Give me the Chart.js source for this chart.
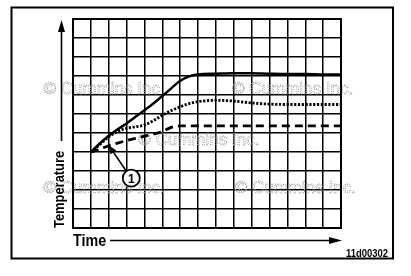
<!DOCTYPE html>
<html><head><meta charset="utf-8">
<script src="https://cdn.jsdelivr.net/npm/chart.js@4/dist/chart.umd.min.js"></script>
<style>html,body{margin:0;padding:0;background:#fff;overflow:hidden}</style>
</head><body>
<canvas id="c" width="411" height="276"></canvas>
<script>
// ---- data (grid units: x = time divisions, y = temperature divisions) ----
const timePoints = [1, 1.5, 2, 2.5, 3, 3.5, 4, 4.5, 5, 5.5, 6, 6.5, 7, 8, 9, 10, 11, 12, 13, 14, 15];
const tempSolid  = [4.0, 4.45, 4.85, 5.2, 5.5, 5.85, 6.2, 6.55, 6.95, 7.35, 7.75, 7.98, 8.08, 8.12, 8.15, 8.15, 8.12, 8.1, 8.1, 8.08, 8.08];
const tempDotted = [4.0, 4.4, 4.8, 5.08, 5.25, 5.33, 5.42, 5.65, 5.93, 6.18, 6.38, 6.55, 6.65, 6.72, 6.68, 6.58, 6.52, 6.5, 6.5, 6.5, 6.5];
const tempDashed = [4.0, 4.15, 4.33, 4.47, 4.6, 4.72, 4.83, 4.95, 5.07, 5.3, 5.37, 5.37, 5.37, 5.37, 5.37, 5.37, 5.37, 5.37, 5.37, 5.37, 5.37];
const xRange = [0, 15];
const yRange = [0, 11];
const xTitle = "Time";
const yTitle = "Temperature";
const figureId = "11d00302";
const calloutLabel = "1";
const calloutCenter = [3.26, 2.62];
const calloutTip = [1.98, 4.37];
const watermarkText = ["© Cummins Inc", "© Cummins Inc.", "© Cummins Inc.", "© Cummins Inc.", "© Cummins Inc."];
const watermarkPos = [[-1.65, 7.3], [8.9, 7.3], [3.65, 4.63], [-1.65, 2.1], [9.05, 2.1]];

function pts(ys){ return timePoints.map((t,i)=>({x:t, y:ys[i]})); }

const FONT = '"Liberation Sans", Arial, sans-serif';

function condensedText(ctx, text, x, y, font, sx, align){
  ctx.save();
  ctx.font = font;
  const w = ctx.measureText(text).width * sx;
  let x0 = x;
  if (align === 'right') x0 = x - w;
  if (align === 'center') x0 = x - w/2;
  ctx.translate(x0, y);
  ctx.scale(sx, 1);
  ctx.textAlign = 'left';
  ctx.fillText(text, 0, 0);
  ctx.restore();
}

const deco = {
  id: 'deco',
  beforeDraw(chart){
    const ctx = chart.ctx;
    ctx.save(); ctx.fillStyle = '#fff'; ctx.fillRect(0,0,chart.width,chart.height); ctx.restore();
  },
  beforeDatasetsDraw(chart){
    const {ctx, scales:{x, y}} = chart;
    ctx.save();
    ctx.font = '17px ' + FONT;
    ctx.strokeStyle = '#a0a0a0';
    ctx.lineWidth = 0.9;
    ctx.setLineDash([1, 1.2]);
    ctx.textBaseline = 'middle';
    watermarkText.forEach((t,i)=>{
      ctx.strokeText(t, x.getPixelForValue(watermarkPos[i][0]), y.getPixelForValue(watermarkPos[i][1]));
    });
    ctx.restore();
  },
  afterDraw(chart){
    const {ctx, chartArea:a, scales:{x, y}} = chart;
    ctx.save();
    ctx.strokeStyle = '#000'; ctx.fillStyle = '#000';
    // plot frame
    ctx.lineWidth = 2;
    ctx.strokeRect(a.left, a.top, a.right - a.left, a.bottom - a.top);
    // outer box
    ctx.strokeRect(11.5, 7.5, 381.5, 251);

    // y title + arrow
    ctx.save();
    ctx.translate(60, a.bottom);
    ctx.rotate(-Math.PI/2);
    ctx.textBaseline = 'middle';
    condensedText(ctx, yTitle, 0, 0, 'bold 15px ' + FONT, 0.86, 'left');
    ctx.restore();
    ctx.lineWidth = 1.6;
    ctx.beginPath(); ctx.moveTo(61.5, a.bottom - 87); ctx.lineTo(61.5, a.top + 8); ctx.stroke();
    ctx.beginPath(); ctx.moveTo(61.5, a.top + 1); ctx.lineTo(58, a.top + 13); ctx.lineTo(65, a.top + 13); ctx.closePath(); ctx.fill();

    // x title + arrow
    ctx.textBaseline = 'alphabetic';
    condensedText(ctx, xTitle, a.left, 246, 'bold 17px ' + FONT, 0.84, 'left');
    ctx.lineWidth = 1.6;
    ctx.beginPath(); ctx.moveTo(110, 240.5); ctx.lineTo(a.right - 6, 240.5); ctx.stroke();
    ctx.beginPath(); ctx.moveTo(a.right + 1, 240.5); ctx.lineTo(a.right - 12, 237); ctx.lineTo(a.right - 12, 244); ctx.closePath(); ctx.fill();

    // figure id
    condensedText(ctx, figureId, 388, 257, 'bold 11px ' + FONT, 0.86, 'right');

    // callout
    const cx = x.getPixelForValue(calloutCenter[0]), cy = y.getPixelForValue(calloutCenter[1]);
    const tx = x.getPixelForValue(calloutTip[0]), ty = y.getPixelForValue(calloutTip[1]);
    const r = 8.5;
    const ang = Math.atan2(ty - cy, tx - cx);
    ctx.lineWidth = 1.6;
    ctx.beginPath(); ctx.moveTo(cx + r*Math.cos(ang), cy + r*Math.sin(ang)); ctx.lineTo(tx - 6*Math.cos(ang), ty - 6*Math.sin(ang)); ctx.stroke();
    ctx.beginPath();
    ctx.moveTo(tx, ty);
    ctx.lineTo(tx - 9*Math.cos(ang) + 3.5*Math.sin(ang), ty - 9*Math.sin(ang) - 3.5*Math.cos(ang));
    ctx.lineTo(tx - 9*Math.cos(ang) - 3.5*Math.sin(ang), ty - 9*Math.sin(ang) + 3.5*Math.cos(ang));
    ctx.closePath(); ctx.fill();
    ctx.fillStyle = '#fff';
    ctx.beginPath(); ctx.arc(cx, cy, r, 0, Math.PI*2); ctx.fill();
    ctx.lineWidth = 1.8;
    ctx.beginPath(); ctx.arc(cx, cy, r, 0, Math.PI*2); ctx.stroke();
    ctx.fillStyle = '#000';
    ctx.textBaseline = 'middle';
    ctx.textAlign = 'center';
    ctx.font = 'bold 12px ' + FONT;
    ctx.fillText(calloutLabel, cx, cy + 1);
    ctx.restore();
  }
};

new Chart(document.getElementById('c'), {
  type: 'line',
  data: {
    datasets: [
      { data: pts(tempSolid), borderColor: '#000', borderWidth: 2.5, pointRadius: 0, cubicInterpolationMode: 'monotone', fill: false },
      { data: pts(tempDotted), borderColor: '#000', borderWidth: 2.8, borderDash: [2.2, 1.6], pointRadius: 0, cubicInterpolationMode: 'monotone', fill: false },
      { data: pts(tempDashed), borderColor: '#000', borderWidth: 2.8, borderDash: [8, 5], pointRadius: 0, cubicInterpolationMode: 'monotone', fill: false }
    ]
  },
  options: {
    responsive: false,
    animation: false,
    devicePixelRatio: 1,
    layout: { padding: { left: 73, right: 70, top: 19, bottom: 48 } },
    plugins: { legend: { display: false }, tooltip: { enabled: false } },
    scales: {
      x: { type: 'linear', min: xRange[0], max: xRange[1],
           ticks: { display: false, stepSize: 1 },
           grid: { color: '#000', lineWidth: 1.5, drawTicks: false },
           border: { display: false } },
      y: { type: 'linear', min: yRange[0], max: yRange[1],
           ticks: { display: false, stepSize: 1 },
           grid: { color: '#000', lineWidth: 1.5, drawTicks: false },
           border: { display: false } }
    }
  },
  plugins: [deco]
});
</script>
</body></html>
